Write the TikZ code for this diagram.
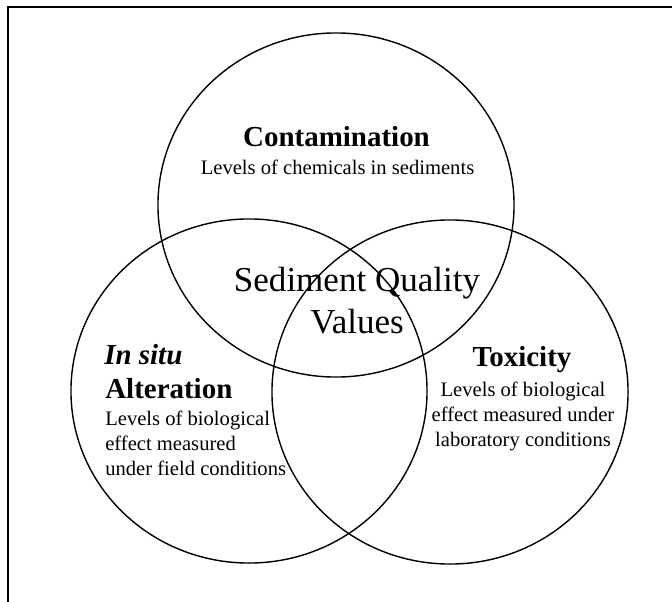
\documentclass[tikz,border=0pt]{standalone}
\usepackage{fontspec}
\setmainfont{Liberation Serif}
\usepackage{tikz}
\usetikzlibrary{shapes.geometric, positioning}
\usepackage{xcolor}
\definecolor{SQVBlack}{HTML}{000000}
\definecolor{SQVWhite}{HTML}{ffffff}
\tikzset{
    % Venn circles - plain outlines
    venn/.style={
        ellipse,
        draw=SQVBlack,
        line width=1pt,
        minimum width=8.9cm,
        minimum height=8.6cm,
        inner sep=0pt,
        outer sep=0pt
    },
    % Text styles
    heading/.style={
        font=\fontsize{20.6}{24}\selectfont\bfseries,
        inner sep=0pt
    },
    blurb/.style={
        font=\fontsize{14.65}{17.8}\selectfont,
        inner sep=0pt
    },
    centre/.style={
        font=\fontsize{24.9}{29.9}\selectfont,
        align=center,
        inner sep=0pt
    },
    frame/.style={
        draw=SQVBlack,
        line width=1.2pt
    }
}

\begin{document}
\begin{tikzpicture}[x=0.025cm, y=0.025cm]
    \useasboundingbox[fill=SQVWhite] (0,0) rectangle (672,601);
    % Outer frame (cut off at right and bottom)
    \draw[frame] (8,-20) rectangle (700,594);

    % Three circles
    \node[venn] (contam) at (336,396) {};
    \node[venn] (insitu) at (249,210) {};
    \node[venn] (toxic) at (450,209) {};

    % Contamination
    \node[heading] (contamhead) at (336.5,464) {Contamination};
    \node[blurb] (contamtext) at (337.5,433.5) {Levels of chemicals in sediments};

    % Centre of the diagram
    \node[centre] (sqv) at (357,300) {Sediment Quality\\Values};

    % In situ alteration
    \node[heading, anchor=west, font=\fontsize{20.6}{24}\selectfont\bfseries\itshape] (insituhead) at (104,246.5) {In situ};
    \node[heading, anchor=west] (alterhead) at (105,212) {Alteration};
    \node[blurb, anchor=west, align=left] (insitutext) at (105,158) {Levels of biological\\effect measured\\under field conditions};

    % Toxicity
    \node[heading] (toxichead) at (522,241) {Toxicity};
    \node[blurb, align=center] (toxictext) at (523,185) {Levels of biological\\effect measured under\\laboratory conditions};
\end{tikzpicture}
\end{document}
